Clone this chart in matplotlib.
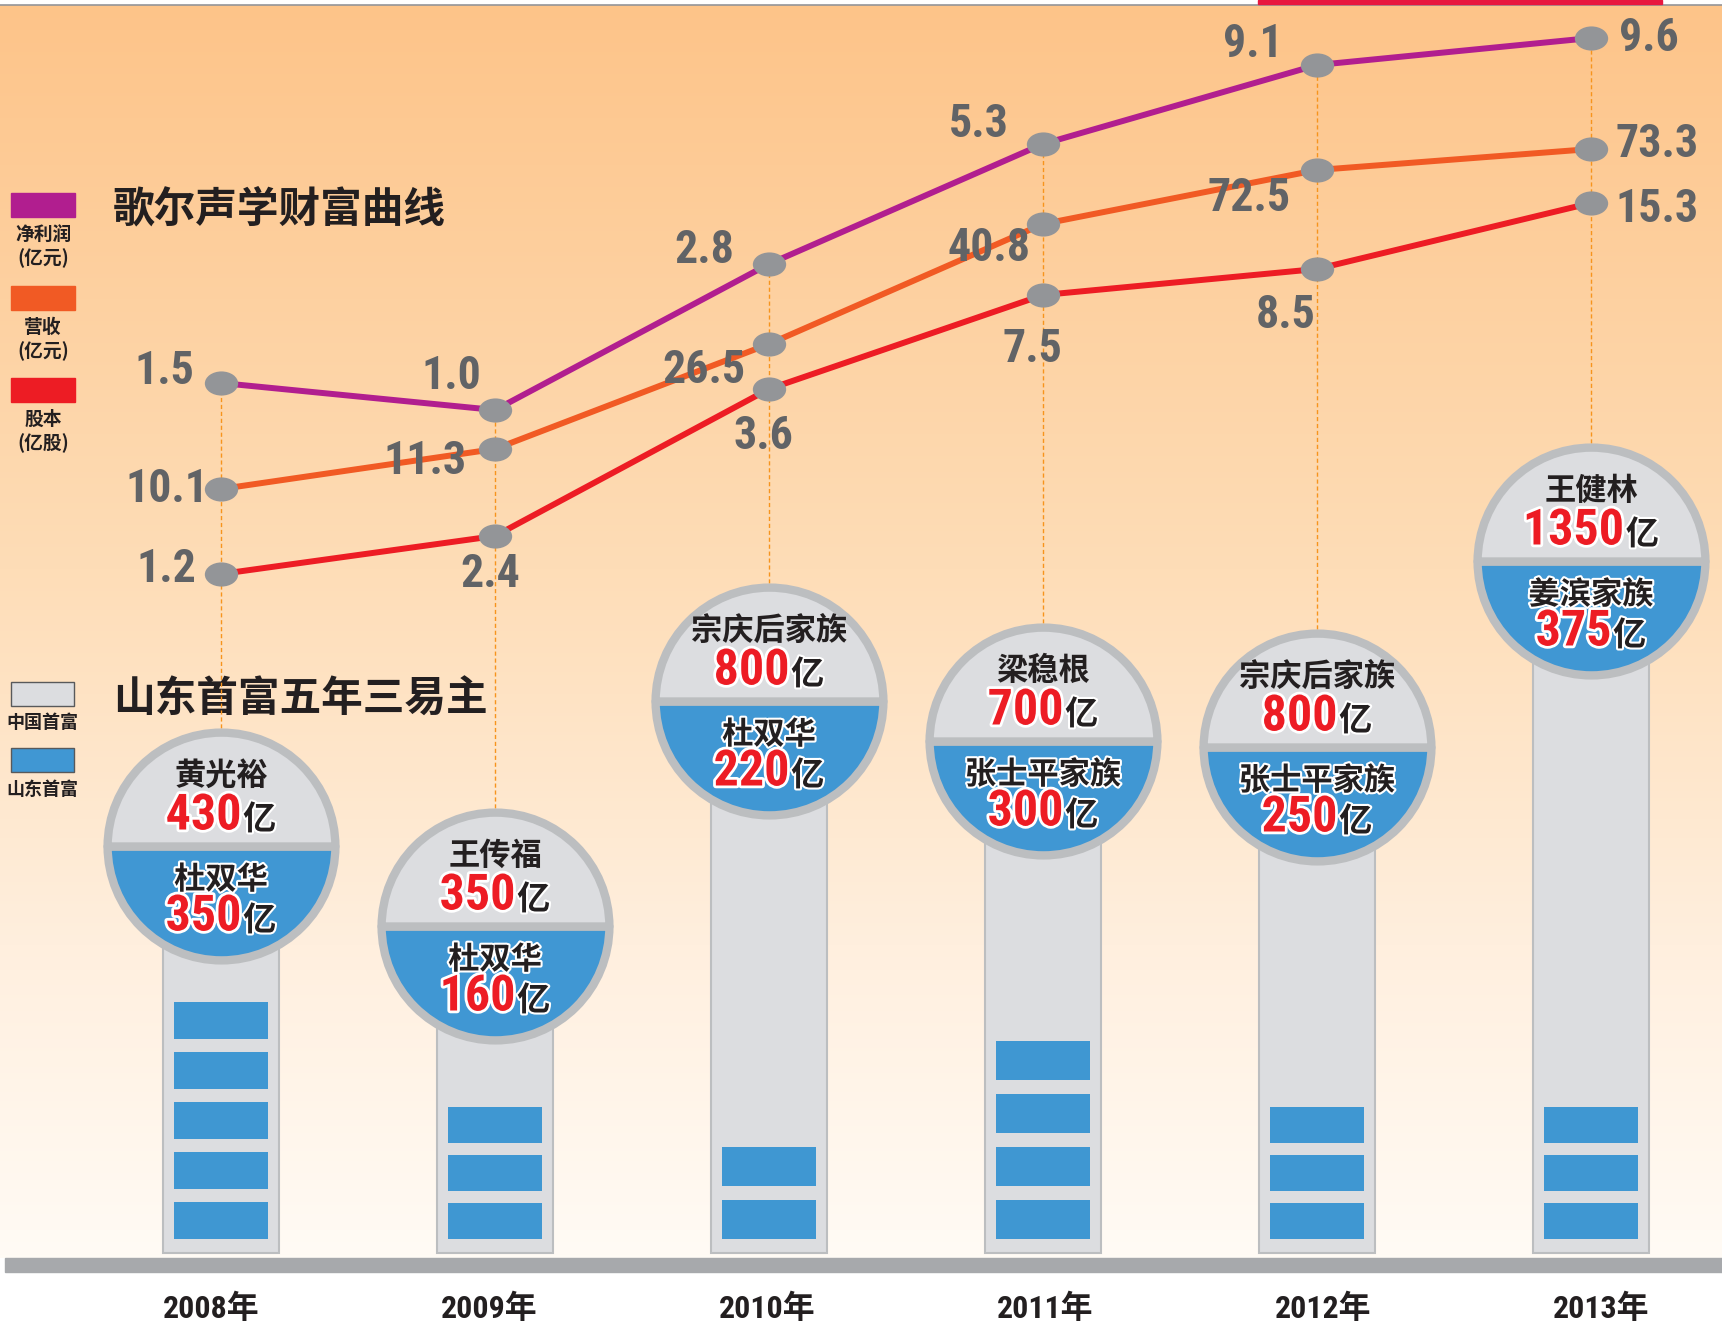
import numpy as np
import matplotlib.pyplot as plt
import matplotlib.patheffects as pe
from matplotlib import font_manager
from matplotlib.path import Path
from matplotlib.patches import Rectangle
from matplotlib.transforms import Affine2D
from matplotlib.offsetbox import TextArea, HPacker, AnnotationBbox

W, H = 1722, 1324

# --------------------------------------------------------------------------- #
# data
# --------------------------------------------------------------------------- #
years   = ["2008年", "2009年", "2010年", "2011年", "2012年", "2013年"]
profit  = [1.5, 1.0, 2.8, 5.3, 9.1, 9.6]        # 净利润 (亿元)
revenue = [10.1, 11.3, 26.5, 40.8, 72.5, 73.3]  # 营收 (亿元)
shares  = [1.2, 2.4, 3.6, 7.5, 8.5, 15.3]       # 股本 (亿股)

# the infographic is not drawn to scale: display heights of each curve
profit_level  = [941, 914, 1060, 1180, 1259, 1286]
revenue_level = [835, 875, 980, 1100, 1154, 1175]
shares_level  = [750, 788, 935, 1029, 1055, 1121]

cn_rich        = ["黄光裕", "王传福", "宗庆后家族", "梁稳根", "宗庆后家族", "王健林"]
cn_rich_wealth = [430, 350, 800, 700, 800, 1350]   # 中国首富 (亿)
sd_rich        = ["杜双华", "杜双华", "杜双华", "张士平家族", "张士平家族", "姜滨家族"]
sd_rich_wealth = [350, 160, 220, 300, 250, 375]    # 山东首富 (亿)
circle_level   = [478, 398, 623, 583, 577, 763]
block_count    = [5, 3, 2, 4, 3, 3]

# --------------------------------------------------------------------------- #
# styles / layout
# --------------------------------------------------------------------------- #
PURPLE, ORANGE, RED = "#b11e8f", "#f15a24", "#ed1c24"
GREY_TXT, MARKER    = "#616366", "#939598"
PILLAR, RING, BLUE  = "#dcdde0", "#bcbec0", "#4097d3"
DARK                = "#231f20"

X0, STEP = 221, 274          # pixel position of first year, spacing
R = 118                      # circle radius in px
CJK = "Noto Sans CJK SC"
BLOCK_PITCH  = [50, 48, 53, 53, 48, 48]
BLOCK_HEIGHT = [37, 36, 39, 39, 36, 36]


def pick_font(*names):
    have = {f.name for f in font_manager.fontManager.ttflist}
    for n in names:
        if n in have:
            return n, "normal"
    return "DejaVu Sans", "condensed"


NUM_FONT, NUM_STRETCH = pick_font("Liberation Sans Narrow", "Roboto Condensed",
                                  "Open Sans Condensed", "DejaVu Sans Condensed")

fig = plt.figure(figsize=(W / 100, H / 100), dpi=100)

# background / decoration axes in pixel coordinates
bg = fig.add_axes([0, 0, 1, 1])
bg.set_xlim(0, W)
bg.set_ylim(H, 0)
bg.axis("off")

stops_y = [0.0, 0.45, 0.75, 1.0]
stops_c = np.array([[253, 196, 137], [254, 221, 183], [255, 239, 222], [255, 251, 245]]) / 255
t = np.linspace(0, 1, 400)
grad = np.stack([np.interp(t, stops_y, stops_c[:, k]) for k in range(3)], axis=1)
bg.imshow(grad[:, None, :], extent=(0, W, 1258, 5), aspect="auto", zorder=0)
bg.plot([0, W], [4.5, 4.5], color=MARKER, lw=1.2, zorder=1)
bg.add_patch(Rectangle((1258, 0), 404, 4, color="#e8173f", zorder=2))
bg.add_patch(Rectangle((5, 1258), W - 5, 14, color="#a7a9ac", zorder=1))

# legend blocks
for top, color, label, unit in [(193, PURPLE, "净利润", "(亿元)"),
                                (286, ORANGE, "营收", "(亿元)"),
                                (378, RED, "股本", "(亿股)")]:
    bg.add_patch(Rectangle((11, top), 64, 24, color=color, zorder=2))
    bg.text(43, top + 41, label, ha="center", va="center", fontsize=13.5,
            family=CJK, weight="bold", color=DARK)
    bg.text(43, top + 65, unit, ha="center", va="center", fontsize=13.5,
            family=CJK, weight="bold", color=DARK)

for top, color, label in [(682, PILLAR, "中国首富"), (748, BLUE, "山东首富")]:
    bg.add_patch(Rectangle((11, top), 63, 24, facecolor=color, edgecolor="#58595b",
                           lw=1, zorder=2))
    bg.text(42, top + 41, label, ha="center", va="center", fontsize=13,
            family=CJK, weight="bold", color=DARK)

bg.text(113, 209, "歌尔声学财富曲线", ha="left", va="center", fontsize=30,
        family=CJK, weight="bold", color=DARK)
bg.text(113, 700, "山东首富五年三易主", ha="left", va="center", fontsize=30,
        family=CJK, weight="bold", color=DARK)

# year labels along the ground bar
for i, y in enumerate(years):
    bg.text(211 + 278 * i, 1309, y, ha="center", va="center", fontsize=23,
            family=[NUM_FONT, CJK], fontstretch=NUM_STRETCH, weight="bold",
            color=DARK)

# data axes: x = year index, y = px above figure bottom
ax = fig.add_axes([0, 0, 1, 1])
ax.set_xlim(-X0 / STEP, (W - X0) / STEP)
ax.set_ylim(0, H)
ax.axis("off")
ax.patch.set_alpha(0)

x = np.arange(len(years))
pillar_w = 116 / STEP
block_w = 94 / STEP

# pillars and blue blocks
ax.bar(x, np.array(circle_level) - 71, bottom=71, width=pillar_w, color=PILLAR,
       edgecolor=RING, lw=1.5, zorder=2)
for i, n in enumerate(block_count):
    ax.bar([i] * n, [BLOCK_HEIGHT[i]] * n, bottom=85 + BLOCK_PITCH[i] * np.arange(n),
           width=block_w, color="#3f97d2", zorder=3)

# dashed guides from the top marker down to the circle
ax.vlines(x, np.array(circle_level) + R, profit_level, colors="#f7941d",
          linestyles=(0, (3, 2)), lw=1, zorder=1)

# circles (top: China richest, bottom: Shandong richest)
ax.plot(x, circle_level, ls="none", marker="o", ms=164, fillstyle="bottom",
        markerfacecolor=BLUE, markerfacecoloralt=PILLAR, mec=RING, mew=6, zorder=5)

white = [pe.withStroke(linewidth=4, foreground="white")]
white_thin = [pe.withStroke(linewidth=3, foreground="white")]


def amount(i, value, dy):
    num = TextArea(str(value), textprops=dict(fontsize=36, family=NUM_FONT,
                   fontstretch=NUM_STRETCH, weight="bold", color=RED,
                   path_effects=white))
    yi = TextArea("亿", textprops=dict(fontsize=24, family=CJK, weight="bold",
                  color=DARK, path_effects=white_thin))
    box = HPacker(children=[num, yi], align="baseline", pad=0, sep=1)
    ab = AnnotationBbox(box, (i, circle_level[i]), xybox=(0, dy / 1.389),
                        boxcoords="offset points", frameon=False,
                        box_alignment=(0.5, 0.5), zorder=7)
    ax.add_artist(ab)


for i in x:
    ax.annotate(cn_rich[i], (i, circle_level[i]), xytext=(0, 70),
                textcoords="offset pixels", ha="center", va="center",
                fontsize=22.5, family=CJK, weight="bold", color=DARK, zorder=7)
    amount(i, cn_rich_wealth[i], 30)
    ax.annotate(sd_rich[i], (i, circle_level[i]), xytext=(0, -34),
                textcoords="offset pixels", ha="center", va="center",
                fontsize=22.5, family=CJK, weight="bold", color=DARK,
                path_effects=white_thin, zorder=7)
    amount(i, sd_rich_wealth[i], -71)

# curves
ellipse = Path.unit_circle().transformed(Affine2D().scale(1.38, 1.0))
label_offsets = {
    "profit":  [(-57, 12), (-44, 34), (-65, 14), (-64, 20), (-64, 21), (58, 0)],
    "revenue": [(-54, 0), (-70, -12), (-65, -26), (-54, -24), (-68, -28), (66, 5)],
    "shares":  [(-55, 5), (-5, -38), (-6, -47), (-11, -54), (-31, -46), (66, -6)],
}
for key, vals, lev, color in [("profit", profit, profit_level, PURPLE),
                              ("revenue", revenue, revenue_level, ORANGE),
                              ("shares", shares, shares_level, RED)]:
    ax.plot(x, lev, color=color, lw=4.3, zorder=3, solid_capstyle="round")
    ax.plot(x, lev, ls="none", marker=ellipse, ms=24, color=MARKER, mec="none",
            zorder=4)
    for i, v in enumerate(vals):
        ax.annotate(f"{v:.1f}", (i, lev[i]), xytext=label_offsets[key][i],
                    textcoords="offset pixels", ha="center", va="center",
                    fontsize=33, family=NUM_FONT, fontstretch=NUM_STRETCH,
                    weight="bold", color=GREY_TXT, zorder=6)

fig.savefig("out.png", dpi=100)
